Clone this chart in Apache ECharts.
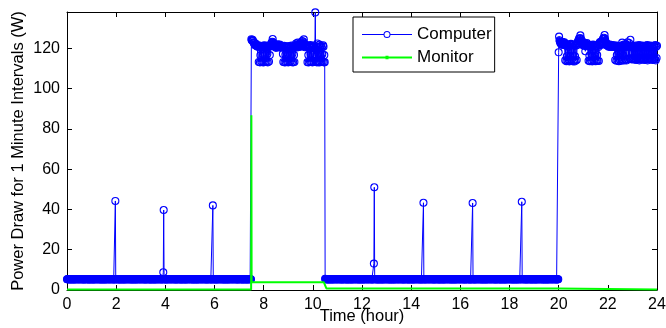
<!DOCTYPE html>
<html><head><meta charset="utf-8">
<script src="https://cdn.jsdelivr.net/npm/echarts@6/dist/echarts.min.js"></script>
<style>html,body{margin:0;padding:0;background:#fff}#c{width:666px;height:328px}</style>
</head><body><div id="c"></div>
<script>
// Computer power, one reading per minute (hours = index / 60)
const sampleStepHours = 1 / 60;
// 0:00 - 7:29
const computerNightA = [
5.3,5.3,5.3,5.4,5.3,5.3,5.3,5.3,5.2,5.3,5.3,5.3,5.3,5.3,5.3,
5.3,5.3,5.2,5.3,5.3,5.3,5.3,5.4,5.3,5.3,5.3,5.3,5.3,5.3,5.3,
5.3,5.3,5.3,5.3,5.3,5.4,5.3,5.3,5.3,5.3,5.3,5.2,5.3,5.3,5.3,
5.3,5.4,5.3,5.3,5.3,5.3,5.3,5.3,5.3,5.2,5.3,5.3,5.3,5.3,5.3,
5.3,5.3,5.3,5.3,5.2,5.3,5.3,5.3,5.3,5.3,5.4,5.3,5.3,5.3,5.3,
5.3,5.3,5.3,5.4,5.3,5.3,5.3,5.3,5.2,5.3,5.3,5.3,5.3,5.3,5.3,
5.3,5.3,5.2,5.3,5.3,5.3,5.3,5.4,5.3,5.3,5.3,5.3,5.3,5.3,5.3,
5.3,5.3,5.3,5.3,5.3,5.4,5.3,5.3,5.3,5.3,5.3,5.2,5.3,44.2,5.3,
5.3,5.4,5.3,5.3,5.3,5.3,5.3,5.3,5.3,5.2,5.3,5.3,5.3,5.3,5.3,
5.3,5.3,5.3,5.3,5.2,5.3,5.3,5.3,5.3,5.3,5.4,5.3,5.3,5.3,5.3,
5.3,5.3,5.3,5.4,5.3,5.3,5.3,5.3,5.2,5.3,5.3,5.3,5.3,5.3,5.3,
5.3,5.3,5.2,5.3,5.3,5.3,5.3,5.4,5.3,5.3,5.3,5.3,5.3,5.3,5.3,
5.3,5.3,5.3,5.3,5.3,5.4,5.3,5.3,5.3,5.3,5.3,5.2,5.3,5.3,5.3,
5.3,5.4,5.3,5.3,5.3,5.3,5.3,5.3,5.3,5.2,5.3,5.3,5.3,5.3,5.3,
5.3,5.3,5.3,5.3,5.2,5.3,5.3,5.3,5.3,5.3,5.4,5.3,5.3,5.3,5.3,
5.3,5.3,5.3,5.4,5.3,5.3,5.3,5.3,5.2,5.3,8.8,39.7,5.3,5.3,5.3,
5.3,5.3,5.2,5.3,5.3,5.3,5.3,5.4,5.3,5.3,5.3,5.3,5.3,5.3,5.3,
5.3,5.3,5.3,5.3,5.3,5.4,5.3,5.3,5.3,5.3,5.3,5.2,5.3,5.3,5.3,
5.3,5.4,5.3,5.3,5.3,5.3,5.3,5.3,5.3,5.2,5.3,5.3,5.3,5.3,5.3,
5.3,5.3,5.3,5.3,5.2,5.3,5.3,5.3,5.3,5.3,5.4,5.3,5.3,5.3,5.3,
5.3,5.3,5.3,5.4,5.3,5.3,5.3,5.3,5.2,5.3,5.3,5.3,5.3,5.3,5.3,
5.3,5.3,5.2,5.3,5.3,5.3,5.3,5.4,5.3,5.3,5.3,5.3,5.3,5.3,5.3,
5.3,5.3,5.3,5.3,5.3,5.4,5.3,5.3,5.3,5.3,5.3,5.2,5.3,5.3,5.3,
5.3,5.4,5.3,5.3,5.3,5.3,5.3,5.3,5.3,5.2,5.3,42.0,5.3,5.3,5.3,
5.3,5.3,5.3,5.3,5.2,5.3,5.3,5.3,5.3,5.3,5.4,5.3,5.3,5.3,5.3,
5.3,5.3,5.3,5.4,5.3,5.3,5.3,5.3,5.2,5.3,5.3,5.3,5.3,5.3,5.3,
5.3,5.3,5.2,5.3,5.3,5.3,5.3,5.4,5.3,5.3,5.3,5.3,5.3,5.3,5.3,
5.3,5.3,5.3,5.3,5.3,5.4,5.3,5.3,5.3,5.3,5.3,5.2,5.3,5.3,5.3,
5.3,5.4,5.3,5.3,5.3,5.3,5.3,5.3,5.3,5.2,5.3,5.3,5.3,5.3,5.3,
5.3,5.3,5.3,5.3,5.2,5.3,5.3,5.3,5.3,5.3,5.4,5.3,5.3,5.3,5.3
];
// 7:30 - 10:29
const computerDayA = [
124.5,124.0,123.8,124.2,123.6,123.0,122.6,122.8,122.0,121.5,121.8,122.2,121.2,121.6,120.9,
121.4,121.0,120.8,113.2,120.8,121.4,113.0,116.5,121.0,113.4,120.6,120.5,113.1,117.0,121.2,
113.0,120.9,121.5,116.8,113.3,121.0,120.4,113.2,121.2,117.2,113.0,120.6,121.0,113.4,120.8,
116.6,121.0,121.5,122.3,121.6,122.8,123.2,124.6,123.0,122.2,121.8,121.0,121.4,120.6,121.4,
120.2,121.0,121.6,120.5,122.0,121.2,120.8,121.3,120.4,121.8,120.9,121.5,120.6,121.2,120.4,
121.0,120.6,117.2,113.2,120.6,121.2,113.0,120.4,116.9,113.1,121.0,120.5,113.3,120.2,117.0,
113.0,120.6,121.1,113.2,120.0,116.8,113.4,120.8,121.3,113.1,117.1,120.5,113.0,121.0,116.7,
113.2,120.6,120.8,121.6,122.4,121.0,120.4,121.2,122.8,121.5,120.6,121.9,121.2,122.5,121.0,
120.8,121.6,122.2,121.4,123.6,122.6,121.8,123.2,124.4,122.2,121.0,120.5,121.4,120.9,121.6,
120.7,121.2,113.1,120.4,116.6,113.0,120.8,121.2,113.4,121.6,117.0,113.2,120.2,121.0,113.0,
116.8,120.6,113.3,121.4,117.2,120.2,137.8,113.2,121.0,116.8,113.0,122.4,113.3,120.5,117.2,
113.0,121.8,120.6,113.1,116.9,121.2,113.4,120.4,117.0,113.2,121.5,120.8,113.0,116.6,113.1
];
// 10:30 - 19:59
const computerNightB = [
5.6,5.4,5.3,5.3,5.3,5.3,5.3,5.3,5.2,5.3,5.3,5.3,5.3,5.3,5.3,
5.3,5.3,5.2,5.3,5.3,5.3,5.3,5.4,5.3,5.3,5.3,5.3,5.3,5.3,5.3,
5.3,5.3,5.3,5.3,5.3,5.4,5.3,5.3,5.3,5.3,5.3,5.2,5.3,5.3,5.3,
5.3,5.4,5.3,5.3,5.3,5.3,5.3,5.3,5.3,5.2,5.3,5.3,5.3,5.3,5.3,
5.3,5.3,5.3,5.3,5.2,5.3,5.3,5.3,5.3,5.3,5.4,5.3,5.3,5.3,5.3,
5.3,5.3,5.3,5.4,5.3,5.3,5.3,5.3,5.2,5.3,5.3,5.3,5.3,5.3,5.3,
5.3,5.3,5.2,5.3,5.3,5.3,5.3,5.4,5.3,5.3,5.3,5.3,5.3,5.3,5.3,
5.3,5.3,5.3,5.3,5.3,5.4,5.3,5.3,5.3,5.3,5.3,5.2,5.3,5.3,13.1,
51.0,5.3,5.3,5.4,5.3,5.3,5.3,5.3,5.3,5.2,5.3,5.3,5.3,5.3,5.3,
5.3,5.3,5.3,5.3,5.2,5.3,5.3,5.3,5.3,5.3,5.4,5.3,5.3,5.3,5.3,
5.3,5.3,5.3,5.4,5.3,5.3,5.3,5.3,5.2,5.3,5.3,5.3,5.3,5.3,5.3,
5.3,5.3,5.2,5.3,5.3,5.3,5.3,5.4,5.3,5.3,5.3,5.3,5.3,5.3,5.3,
5.3,5.3,5.3,5.3,5.3,5.4,5.3,5.3,5.3,5.3,5.3,5.2,5.3,5.3,5.3,
5.3,5.4,5.3,5.3,5.3,5.3,5.3,5.3,5.3,5.2,5.3,5.3,5.3,5.3,5.3,
5.3,5.3,5.3,5.3,5.2,5.3,5.3,5.3,5.3,5.3,5.4,5.3,5.3,5.3,5.3,
5.3,5.3,5.3,5.4,5.3,5.3,5.3,5.3,5.2,5.3,5.3,5.3,5.3,5.3,5.3,
43.3,5.3,5.2,5.3,5.3,5.3,5.3,5.4,5.3,5.3,5.3,5.3,5.3,5.3,5.3,
5.3,5.3,5.3,5.3,5.3,5.4,5.3,5.3,5.3,5.3,5.3,5.2,5.3,5.3,5.3,
5.3,5.4,5.3,5.3,5.3,5.3,5.3,5.3,5.3,5.2,5.3,5.3,5.3,5.3,5.3,
5.3,5.3,5.3,5.3,5.2,5.3,5.3,5.3,5.3,5.3,5.4,5.3,5.3,5.3,5.3,
5.3,5.3,5.3,5.4,5.3,5.3,5.3,5.3,5.2,5.3,5.3,5.3,5.3,5.3,5.3,
5.3,5.3,5.2,5.3,5.3,5.3,5.3,5.4,5.3,5.3,5.3,5.3,5.3,5.3,5.3,
5.3,5.3,5.3,5.3,5.3,5.4,5.3,5.3,5.3,5.3,5.3,5.2,5.3,5.3,5.3,
5.3,5.4,5.3,5.3,5.3,5.3,5.3,5.3,5.3,5.2,5.3,5.3,5.3,5.3,5.3,
43.2,5.3,5.3,5.3,5.2,5.3,5.3,5.3,5.3,5.3,5.4,5.3,5.3,5.3,5.3,
5.3,5.3,5.3,5.4,5.3,5.3,5.3,5.3,5.2,5.3,5.3,5.3,5.3,5.3,5.3,
5.3,5.3,5.2,5.3,5.3,5.3,5.3,5.4,5.3,5.3,5.3,5.3,5.3,5.3,5.3,
5.3,5.3,5.3,5.3,5.3,5.4,5.3,5.3,5.3,5.3,5.3,5.2,5.3,5.3,5.3,
5.3,5.4,5.3,5.3,5.3,5.3,5.3,5.3,5.3,5.2,5.3,5.3,5.3,5.3,5.3,
5.3,5.3,5.3,5.3,5.2,5.3,5.3,5.3,5.3,5.3,5.4,5.3,5.3,5.3,5.3,
5.3,5.3,5.3,5.4,5.3,5.3,5.3,5.3,5.2,5.3,5.3,5.3,5.3,5.3,5.3,
5.3,5.3,5.2,5.3,5.3,5.3,5.3,5.4,5.3,5.3,5.3,5.3,5.3,5.3,5.3,
43.8,5.3,5.3,5.3,5.3,5.4,5.3,5.3,5.3,5.3,5.3,5.2,5.3,5.3,5.3,
5.3,5.4,5.3,5.3,5.3,5.3,5.3,5.3,5.3,5.2,5.3,5.3,5.3,5.3,5.3,
5.3,5.3,5.3,5.3,5.2,5.3,5.3,5.3,5.3,5.3,5.4,5.3,5.3,5.3,5.3,
5.3,5.3,5.3,5.4,5.3,5.3,5.3,5.3,5.2,5.3,5.3,5.3,5.3,5.3,5.3,
5.3,5.3,5.2,5.3,5.3,5.3,5.3,5.4,5.3,5.3,5.3,5.3,5.3,5.3,5.3,
5.3,5.3,5.3,5.3,5.3,5.4,5.3,5.3,5.3,5.3,5.3,5.2,5.3,5.3,5.3
];
// 20:00 - 24:00
const computerDayB = [
118.0,125.8,124.0,123.4,122.6,123.0,122.2,121.8,122.5,123.2,122.0,122.8,121.6,122.4,123.0,
122.2,114.0,121.6,121.2,113.6,116.0,122.0,113.8,121.4,120.8,114.2,113.5,121.8,116.2,113.7,
122.2,114.0,121.5,120.9,113.6,116.4,121.8,114.0,113.4,121.2,116.0,113.8,122.0,121.4,114.2,
121.6,122.6,123.4,122.8,124.2,125.0,123.6,124.8,126.4,125.0,123.2,124.0,122.4,121.8,122.6,
121.5,122.0,122.8,121.2,122.4,118.5,121.6,122.2,121.0,122.6,121.4,122.0,121.2,113.8,121.0,
116.4,113.6,121.4,120.8,113.9,120.8,116.0,113.5,121.2,121.8,114.0,121.6,113.7,116.2,121.0,
113.6,120.8,121.4,114.0,116.6,113.8,121.2,120.6,113.7,122.0,122.8,121.6,123.2,122.4,122.9,
121.8,123.0,122.4,124.6,123.4,125.2,124.6,126.6,124.8,123.6,122.6,121.8,122.4,121.4,122.0,
121.2,121.8,120.8,121.6,121.0,121.9,120.6,121.4,120.8,121.6,121.0,120.6,121.3,120.9,121.5,
120.8,121.2,120.6,114.2,120.8,121.4,113.8,116.6,121.2,114.0,120.6,120.9,113.6,121.0,114.4,
117.0,120.4,121.2,113.8,121.4,122.8,114.2,120.6,116.4,121.8,113.9,121.0,120.5,114.4,121.6,
122.0,114.0,120.8,123.0,121.4,114.6,121.2,122.6,115.0,120.8,124.2,121.0,114.6,120.4,115.0,
121.2,114.4,120.6,115.2,121.0,114.6,120.2,115.0,121.4,114.2,120.8,114.8,121.0,115.4,120.4,
114.6,121.6,114.0,120.8,115.0,121.2,114.4,120.6,115.2,121.4,114.6,120.8,115.0,121.0,114.2,
120.6,114.8,121.2,115.4,120.4,114.6,121.6,114.0,120.8,115.0,121.2,114.4,120.6,115.2,121.4,
114.6,120.8,115.0,121.0,114.2,120.6,114.8,121.2,115.4,120.4,114.6,121.6,114.0,120.8,115.2,
121.2
];
// Monitor power at its change points
const monitorHours = [0, 7.49, 7.5, 7.51, 10.45, 10.55, 12.47, 12.5, 12.53, 14.47, 14.5, 14.53, 16.47, 16.5, 16.53, 18.47, 18.5, 18.53, 19.97, 20.0, 24];
const monitorWatts = [0.2, 0.2, 86.8, 3.8, 3.8, 0.8, 0.8, 1.5, 0.8, 0.8, 1.5, 0.8, 0.8, 1.5, 0.8, 0.8, 1.5, 0.8, 0.8, 0.2, 0.2];

const seriesNames = ['Computer', 'Monitor'];
const xTitle = 'Time (hour)';
const yTitle = 'Power Draw for 1 Minute Intervals (W)';

const computerValues = [].concat(computerNightA, computerDayA, computerNightB, computerDayB);
const computerData = computerValues.map((v, i) => [i * sampleStepHours, v]);
const monitorData = monitorHours.map((h, i) => [h, monitorWatts[i]]);

const FONT = "'Liberation Sans', Arial, Helvetica, sans-serif";
const chart = echarts.init(document.getElementById('c'), null, {renderer: 'canvas'});
const tickStyle = {show: true, inside: true, length: 5, lineStyle: {color: '#000', width: 1}};
const lineAxis = {show: true, onZero: false, lineStyle: {color: '#000', width: 1}};
const computerIcon = 'path://M0,3 L21.6,3 L21.6,4 L0,4 Z M28.4,3 L50,3 L50,4 L28.4,4 Z ' +
  'M21.5,3.5 A3.5,3.5 0 1,1 28.5,3.5 A3.5,3.5 0 1,1 21.5,3.5 Z ' +
  'M22.5,3.5 A2.5,2.5 0 1,0 27.5,3.5 A2.5,2.5 0 1,0 22.5,3.5 Z';
const monitorIcon = 'path://M0,4 L50,4 L50,6 L0,6 Z M23.5,3.2 L26.5,3.2 L26.5,6.8 L23.5,6.8 Z';
chart.setOption({
  animation: false,
  backgroundColor: '#fff',
  textStyle: {fontFamily: FONT},
  grid: {left: 67, right: 9, top: 12, bottom: 38, containLabel: false, outerBoundsMode: 'none'},
  legend: {
    data: [
      {name: seriesNames[0], icon: computerIcon, itemStyle: {color: '#0000ff', borderWidth: 0}},
      {name: seriesNames[1], icon: monitorIcon, itemStyle: {color: '#00ff00', borderWidth: 0}}
    ],
    orient: 'vertical', left: 353, top: 17,
    itemWidth: 50, itemHeight: 7, itemGap: 6,
    padding: [9, 3, 6, 9],
    borderColor: '#000', borderWidth: 1, backgroundColor: '#fff',
    textStyle: {fontSize: 17, color: '#000', fontFamily: FONT},
    selectedMode: false
  },
  xAxis: [
    {type: 'value', min: 0, max: 24, interval: 2, position: 'bottom',
     name: xTitle, nameLocation: 'middle', nameGap: 18, nameMoveOverlap: false,
     nameTextStyle: {fontSize: 16.5, color: '#000', fontFamily: FONT},
     axisLine: lineAxis, axisTick: tickStyle, splitLine: {show: false},
     axisLabel: {fontSize: 16, color: '#000', margin: 7, fontFamily: FONT}},
    {type: 'value', min: 0, max: 24, interval: 2, position: 'top',
     axisLine: lineAxis, axisTick: tickStyle, splitLine: {show: false}, axisLabel: {show: false}}
  ],
  yAxis: [
    {type: 'value', min: 0, max: 138, interval: 20, position: 'left',
     name: yTitle, nameLocation: 'middle', nameGap: 40, nameMoveOverlap: false,
     nameTextStyle: {fontSize: 16.5, color: '#000', fontFamily: FONT},
     axisLine: lineAxis, axisTick: tickStyle, splitLine: {show: false},
     axisLabel: {fontSize: 16, color: '#000', margin: 7, showMaxLabel: false, fontFamily: FONT}},
    {type: 'value', min: 0, max: 138, interval: 20, position: 'right',
     axisLine: lineAxis, axisTick: tickStyle, splitLine: {show: false}, axisLabel: {show: false}}
  ],
  series: [
    {name: seriesNames[0], type: 'line', data: computerData,
     symbol: 'circle', symbolSize: 7, showSymbol: true, showAllSymbol: true,
     lineStyle: {color: '#0000ff', width: 1},
     itemStyle: {color: 'rgba(0,0,0,0)', borderColor: '#0000ff', borderWidth: 1.1},
     emphasis: {disabled: true}, z: 2},
    {name: seriesNames[1], type: 'line', data: monitorData,
     symbol: 'circle', symbolSize: 2, showSymbol: false,
     lineStyle: {color: '#00ff00', width: 2},
     itemStyle: {color: '#00ff00'},
     emphasis: {disabled: true}, z: 3}
  ]
});
</script></body></html>
